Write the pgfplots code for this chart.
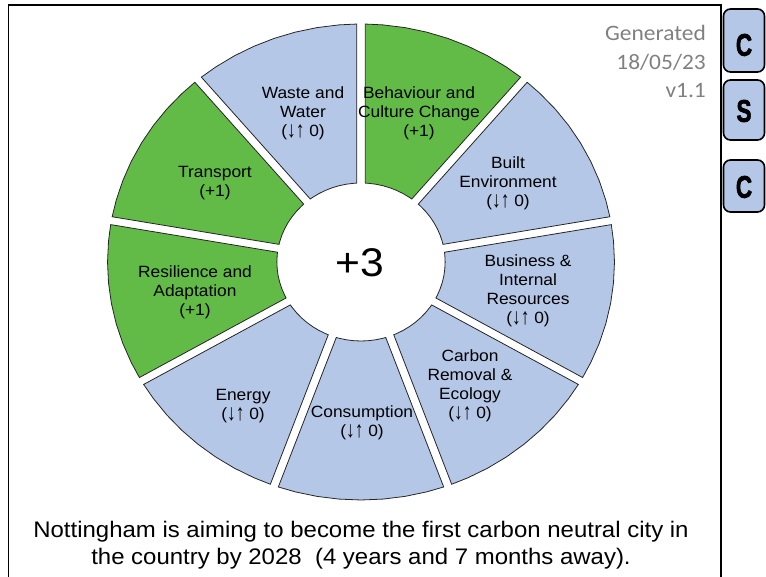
\documentclass[border=0pt]{standalone}
\usepackage{fontspec}
\setmainfont{Liberation Sans}
\newfontfamily\calibri{Carlito}
\newfontfamily\btnfont{Liberation Sans}[BoldFeatures={FakeBold=2.2}]
\usepackage{graphicx}
\usepackage{pgfplots}
\usepackage{pgfplotstable}
\pgfplotsset{compat=1.18}

\definecolor{segGreen}{RGB}{98,187,71}
\definecolor{segBlue}{RGB}{180,199,231}
\definecolor{txtGray}{RGB}{128,128,128}

\newcommand\nochg{(\raisebox{-0.8pt}{\scalebox{1}[1.4]{↓↑}} 0)}

% one 40 degree sector, local angles from its start boundary (polar: angle, radius)
\pgfplotstableread{
a      r
-0.96  238
-5     238
-10    238
-15    238
-20    238
-25    238
-30    238
-35    238
-39.04 238
-37.1  79
-35    79
-30    79
-25    79
-20    79
-15    79
-10    79
-5     79
-2.9   79
}\sector

\begin{document}
\begin{tikzpicture}[x=1pt,y=1pt]
\path[use as bounding box] (0,0) rectangle (766,576);

\begin{axis}[
    at={(0,0)}, anchor=south west,
    scale only axis, width=766pt, height=576pt,
    xmin=-338.97, xmax=380.28, ymin=-314, ymax=262,
    hide axis, clip=false,
    seg/.style={data cs=polar, draw=black!85, line width=0.8pt},
]
% start angle of each area, clockwise; green = +1, blue = 0
\addplot[seg, fill=segGreen] table[x expr=\thisrow{a}+90,  y=r] {\sector} -- cycle; % Behaviour and Culture Change
\addplot[seg, fill=segBlue]  table[x expr=\thisrow{a}+50,  y=r] {\sector} -- cycle; % Built Environment
\addplot[seg, fill=segBlue]  table[x expr=\thisrow{a}+10,  y=r] {\sector} -- cycle; % Business & Internal Resources
\addplot[seg, fill=segBlue]  table[x expr=\thisrow{a}-30,  y=r] {\sector} -- cycle; % Carbon Removal & Ecology
\addplot[seg, fill=segBlue]  table[x expr=\thisrow{a}-70,  y=r] {\sector} -- cycle; % Consumption
\addplot[seg, fill=segBlue]  table[x expr=\thisrow{a}-110, y=r] {\sector} -- cycle; % Energy
\addplot[seg, fill=segGreen] table[x expr=\thisrow{a}-150, y=r] {\sector} -- cycle; % Resilience and Adaptation
\addplot[seg, fill=segGreen] table[x expr=\thisrow{a}-190, y=r] {\sector} -- cycle; % Transport
\addplot[seg, fill=segBlue]  table[x expr=\thisrow{a}-230, y=r] {\sector} -- cycle; % Waste and Water
\end{axis}

\tikzset{lbl/.style={align=center, inner sep=0pt, xscale=1.065,
    font=\fontsize{16.3}{19}\selectfont}}
\node[lbl] at (303,463) {Waste and\\Water\\\nochg};
\node[lbl] at (419,463) {Behaviour and\\Culture Change\\(+1)};
\node[lbl] at (508,393) {Built\\Environment\\\nochg};
\node[lbl] at (528,285) {Business \&\\Internal\\Resources\\\nochg};
\node[lbl] at (470,190.5) {Carbon\\Removal \&\\Ecology\\\nochg};
\node[lbl] at (362,153) {Consumption\\\nochg};
\node[lbl] at (243,170) {Energy\\\nochg};
\node[lbl] at (195,284) {Resilience and\\Adaptation\\(+1)};
\node[lbl] at (215,393) {Transport\\(+1)};

\node[inner sep=0pt, xscale=1.065, font=\fontsize{40}{44}\selectfont] at (360,313.5) {+3};

% frame
\draw[line width=1.8pt] (8.5,-5) -- (8.5,571) -- (721,571) -- (721,-5);

% side buttons
\foreach \yt/\yb/\ch/\yc in {9/72/C/45, 80/140/S/111, 160/212/C/187}{
  \draw[line width=1.6pt, fill=segBlue, rounded corners=7pt]
    (723.5,576-\yt) rectangle (764.5,576-\yb);
  \node[inner sep=0pt, xscale=0.78, yscale=1.08, font=\btnfont\bfseries\fontsize{29}{30}\selectfont]
    at (744,576-\yc) {\ch};
}

% version note
\node[anchor=east, align=right, inner sep=0pt, xscale=1.065, text=txtGray,
  font=\calibri\fontsize{22}{28.5}\selectfont] at (706,514.5)
  {Generated\\18/05/23\\v1.1};

% footer
\node[align=center, inner sep=0pt, xscale=1.065,
  font=\fontsize{22.5}{27.5}\selectfont] at (361,31)
  {Nottingham is aiming to become the first carbon neutral city in\\
   the country by 2028\ \ (4 years and 7 months away).};
\end{tikzpicture}
\end{document}
